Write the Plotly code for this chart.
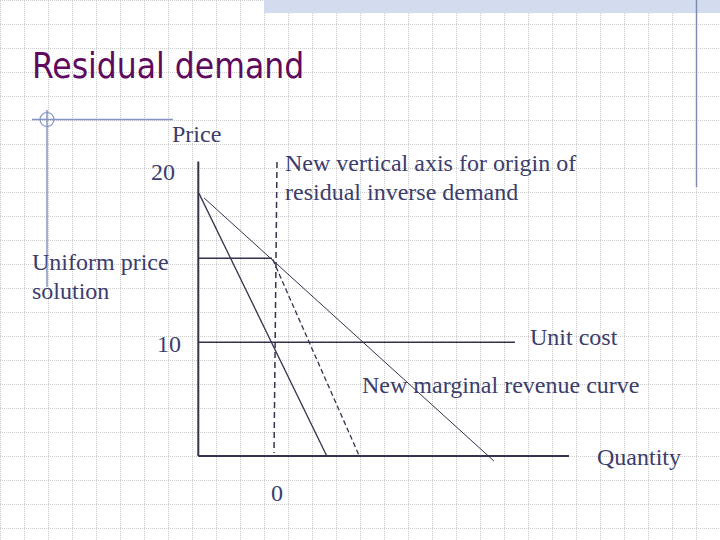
import plotly.graph_objects as go

# ---------------- data (diagram units: quantity, price) ----------------
price_axis_q = [0.0, 0.0]
price_axis_p = [0.0, 25.9]
qty_axis_q = [0.0, 32.6]
qty_axis_p = [0.0, 0.0]

mr_q = [0.06, 11.3]          # original marginal revenue (steep, solid)
mr_p = [23.1, 0.0]
demand_q = [0.5, 26.0]       # market demand (thin)
demand_p = [22.7, -0.44]
resid_mr_q = [6.54, 14.16]   # new marginal revenue curve (dashed)
resid_mr_p = [17.3, 0.0]
new_axis_q = [6.92, 6.66]    # new vertical axis (dashed)
new_axis_p = [25.86, 0.26]
uniform_q = [0.0, 6.48]      # uniform price solution
uniform_p = [17.39, 17.39]
unit_cost_q = [0.0, 27.85]   # unit cost
unit_cost_p = [10.0, 10.0]

title_text = "Residual demand"
labels = [
    # text, pixel x, pixel y, anchor
    ("Price", 170, 134, "left"),
    ("20", 163, 172, "center"),
    ("New vertical axis for origin of", 283, 163, "left"),
    ("residual inverse demand", 283, 192, "left"),
    ("Uniform price", 30, 262, "left"),
    ("solution", 30, 291, "left"),
    ("10", 169, 344, "center"),
    ("Unit cost", 528, 337, "left"),
    ("New marginal revenue curve", 360, 385, "left"),
    ("Quantity", 595, 457, "left"),
    ("0", 277, 493, "center"),
]

# ---------------- layout constants ----------------
W, H = 720, 540
PX = 11.37            # pixels per diagram unit
OX, OY = 198.3, 456   # pixel position of the origin
LINE = "#33334d"
TEXT = "#3b3d6c"

def px(x):
    return x / W

def py(y):
    return 1 - y / H

fig = go.Figure()

def seg(q, p, width=1.0, dash="solid"):
    fig.add_trace(go.Scatter(x=q, y=p, mode="lines",
                             line=dict(color=LINE, width=width, dash=dash),
                             hoverinfo="skip", showlegend=False))

seg(price_axis_q, price_axis_p, 2)
seg(qty_axis_q, qty_axis_p, 2)
seg(uniform_q, uniform_p, 1.6)
seg(unit_cost_q, unit_cost_p, 1.6)
seg(mr_q, mr_p, 1.3)
seg(demand_q, demand_p, 1.0)
seg(resid_mr_q, resid_mr_p, 1.3, "5px,3px")
seg(new_axis_q, new_axis_p, 1.5, "6px,4px")

shapes = []
# dotted slide grid
for i in range(0, 31):
    x = i * 24 + 0.5
    shapes.append(dict(type="line", xref="paper", yref="paper", x0=px(x), x1=px(x),
                       y0=0, y1=1, line=dict(color="#cdcdcd", width=1, dash="1px,1px"),
                       layer="below"))
for j in range(0, 23):
    y = j * 24 + 0.5
    shapes.append(dict(type="line", xref="paper", yref="paper", x0=0, x1=1,
                       y0=py(y), y1=py(y), line=dict(color="#cdcdcd", width=1, dash="1px,1px"),
                       layer="below"))
# top band
shapes.append(dict(type="rect", xref="paper", yref="paper", x0=px(264), x1=1,
                   y0=py(13), y1=1, fillcolor="#d3dcee", line=dict(width=0), layer="below"))
# right vertical rule
shapes.append(dict(type="line", xref="paper", yref="paper", x0=px(696.5), x1=px(696.5),
                   y0=py(187), y1=1, line=dict(color="#7d8cb0", width=1.5)))
# corner ornament
shapes.append(dict(type="line", xref="paper", yref="paper", x0=px(32), x1=px(173),
                   y0=py(119.5), y1=py(119.5), line=dict(color="#8393c4", width=1.5)))
shapes.append(dict(type="line", xref="paper", yref="paper", x0=px(47), x1=px(47),
                   y0=py(110), y1=py(287), line=dict(color="#8393c4", width=1.5)))
shapes.append(dict(type="circle", xref="paper", yref="paper", x0=px(40), x1=px(54),
                   y0=py(126.5), y1=py(112.5), line=dict(color="#8393c4", width=1.2)))

annotations = [dict(text=title_text, xref="paper", yref="paper", x=px(30), y=py(66),
                    xanchor="left", yanchor="middle", showarrow=False,
                    font=dict(family="DejaVu Sans Condensed, DejaVu Sans", size=35,
                              color="#5e0a5e"))]
for t, x, y, anc in labels:
    annotations.append(dict(text=t, xref="paper", yref="paper", x=px(x), y=py(y),
                            xanchor=anc, yanchor="middle", showarrow=False,
                            font=dict(family="Liberation Serif, Times New Roman, serif",
                                      size=24, color=TEXT)))

fig.update_layout(
    width=W, height=H, margin=dict(l=0, r=0, t=0, b=0),
    paper_bgcolor="white", plot_bgcolor="rgba(0,0,0,0)",
    xaxis=dict(range=[-OX / PX, (W - OX) / PX], visible=False, fixedrange=True),
    yaxis=dict(range=[-(H - OY) / PX, OY / PX], visible=False, fixedrange=True),
    shapes=shapes, annotations=annotations, showlegend=False,
)

fig.write_html("out.html", config={"displayModeBar": False},
               post_script="document.body.style.margin='0';document.body.style.overflow='hidden';")
